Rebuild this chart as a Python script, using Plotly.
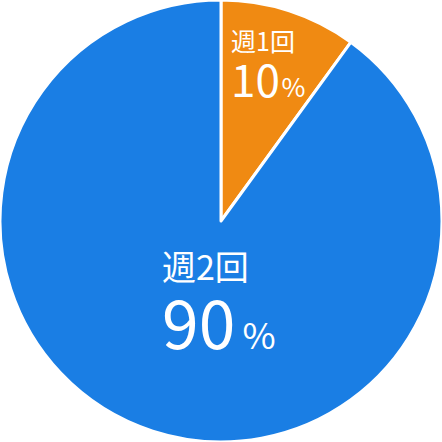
import plotly.graph_objects as go

labels = ['週1回', '週2回']
values = [10, 90]
colors = ['#F08A12', '#1A7EE4']

fig = go.Figure(go.Pie(
    labels=labels,
    values=values,
    sort=False,
    direction='clockwise',
    rotation=0,
    marker=dict(colors=colors, line=dict(color='white', width=3)),
    textinfo='none',
    hoverinfo='label+percent',
    domain=dict(x=[0, 1], y=[0, 1]),
))

font = 'Noto Sans CJK JP, Noto Sans, sans-serif'
W = 442

# (left px, top px, line size, name size, number size, % size, gap)
label_pos = [(229, 20, 35, 25, 44, 26, '\u200a'), (160, 239, 53, 34, 66, 36, '\u2009')]
for lab, val, (px, py, base, s1, s2, s3, gap) in zip(labels, values, label_pos):
    text = (f"<span style='font-size:{s1}px'>{lab}</span><br>"
            f"<span style='font-size:{s2}px'>{val}</span>"
            f"<span style='font-size:{s3}px'>{gap}%</span>")
    fig.add_annotation(x=px / W, y=1 - py / W, xref='paper', yref='paper',
                       xanchor='left', yanchor='top', align='left',
                       text=text, showarrow=False,
                       font=dict(family=font, size=base, color='white'))

fig.update_layout(
    width=W, height=W,
    margin=dict(l=0, r=0, t=0, b=0),
    paper_bgcolor='white',
    showlegend=False,
)

fig.write_html("out.html", config={'displayModeBar': False},
               post_script="document.body.style.margin='0';")
